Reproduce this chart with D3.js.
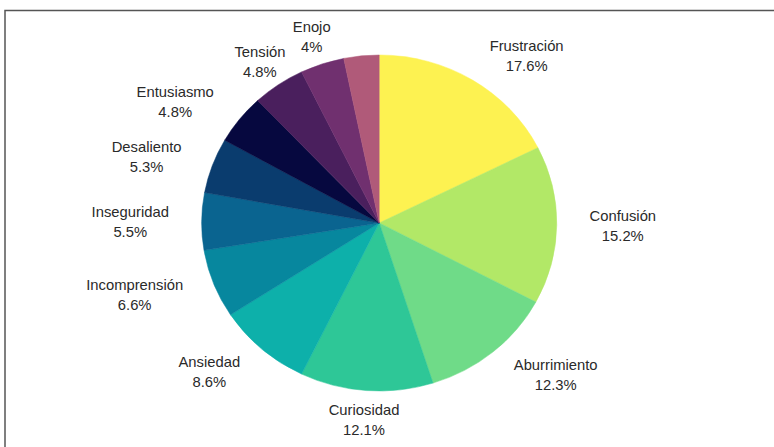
<!DOCTYPE html>
<html>
<head>
<meta charset="utf-8">
<script src="https://cdn.jsdelivr.net/npm/d3@7"></script>
<style>
    html, body { margin: 0; padding: 0; background: #fff; }
    svg { display: block; }
    .lbl { font-family: "Liberation Sans", Arial, sans-serif; font-size: 14px; fill: #2a2a2a; }
</style>
</head>
<body>
<svg id="chart" width="774" height="447"></svg>
<script>
// emotions, clockwise from 12 o'clock; the last slice has no label in the source
var emotions = ["Frustración", "Confusión", "Aburrimiento", "Curiosidad", "Ansiedad",
    "Incomprensión", "Inseguridad", "Desaliento", "Entusiasmo", "Tensión", "Enojo", ""];
var percents = [17.6, 15.2, 12.3, 12.1, 8.6, 6.6, 5.5, 5.3, 4.8, 4.8, 4, 3.2];
var sliceColors = ["#fdf251", "#b2e867", "#6fdb88", "#2ec797", "#0db0aa", "#07879e",
    "#0a6490", "#0a3c6e", "#06083f", "#4a1f5d", "#70306f", "#b05a79"];

var W = 774, H = 447;
var cx = 379.2, cy = 223;
var radius = 168;
var stretch = 1.057;          // source picture is a bit wider than tall
var labelRx = 199, labelRy = 177;
var lineH = 20;

var svg = d3.select("#chart");

// frame (only top and left edges are visible in the picture)
svg.append("path")
    .attr("d", "M5,447 L5,10.5 L" + W + ",10.5")
    .attr("fill", "none")
    .attr("stroke", "#555")
    .attr("stroke-width", 1.5);

var rows = emotions.map(function(name, i) {
    return {name: name, value: percents[i], color: sliceColors[i]};
});

var pie = d3.pie()
    .sort(null)
    .value(function(d) { return d.value; });

var arc = d3.arc()
    .innerRadius(0)
    .outerRadius(radius);

var g = svg.append("g")
    .attr("transform", "translate(" + cx + "," + cy + ") scale(" + stretch + ",1)");

var arcs = pie(rows);

g.selectAll("path.slice")
    .data(arcs)
    .enter()
    .append("path")
    .classed("slice", true)
    .attr("d", arc)
    .attr("fill", function(d) { return d.data.color; })
    .attr("stroke", function(d) { return d.data.color; })
    .attr("stroke-width", 0.5);

// labels: two-line box placed just outside the pie
var labels = g.selectAll("text.lbl")
    .data(arcs.filter(function(d) { return d.data.name !== ""; }))
    .enter()
    .append("text")
    .classed("lbl", true)
    .attr("text-anchor", "middle");

labels.append("tspan").classed("l1", true).text(function(d) { return d.data.name; });
labels.append("tspan").classed("l2", true).text(function(d) { return d.data.value + "%"; });

labels.each(function(d) {
    var t = d3.select(this);
    var w = Math.max(t.select("tspan.l1").node().getComputedTextLength(),
                     t.select("tspan.l2").node().getComputedTextLength());
    var a = (d.startAngle + d.endAngle) / 2;
    var s = Math.sin(a), c = Math.cos(a);
    var px = s * labelRx, py = -c * labelRy;
    var h = lineH * 2;

    // horizontal: snap to side; vertical: slide with the angle
    var left = s > 0.5 ? px : (s < -0.6 ? px - w : px - w / 2);
    var mid = left + w / 2;
    var centerY = py - c * h / 2;

    var base = centerY - lineH / 2 + 6;
    t.select("tspan.l1").attr("x", mid).attr("y", base);
    t.select("tspan.l2").attr("x", mid).attr("y", base + lineH);
});
</script>
</body>
</html>
